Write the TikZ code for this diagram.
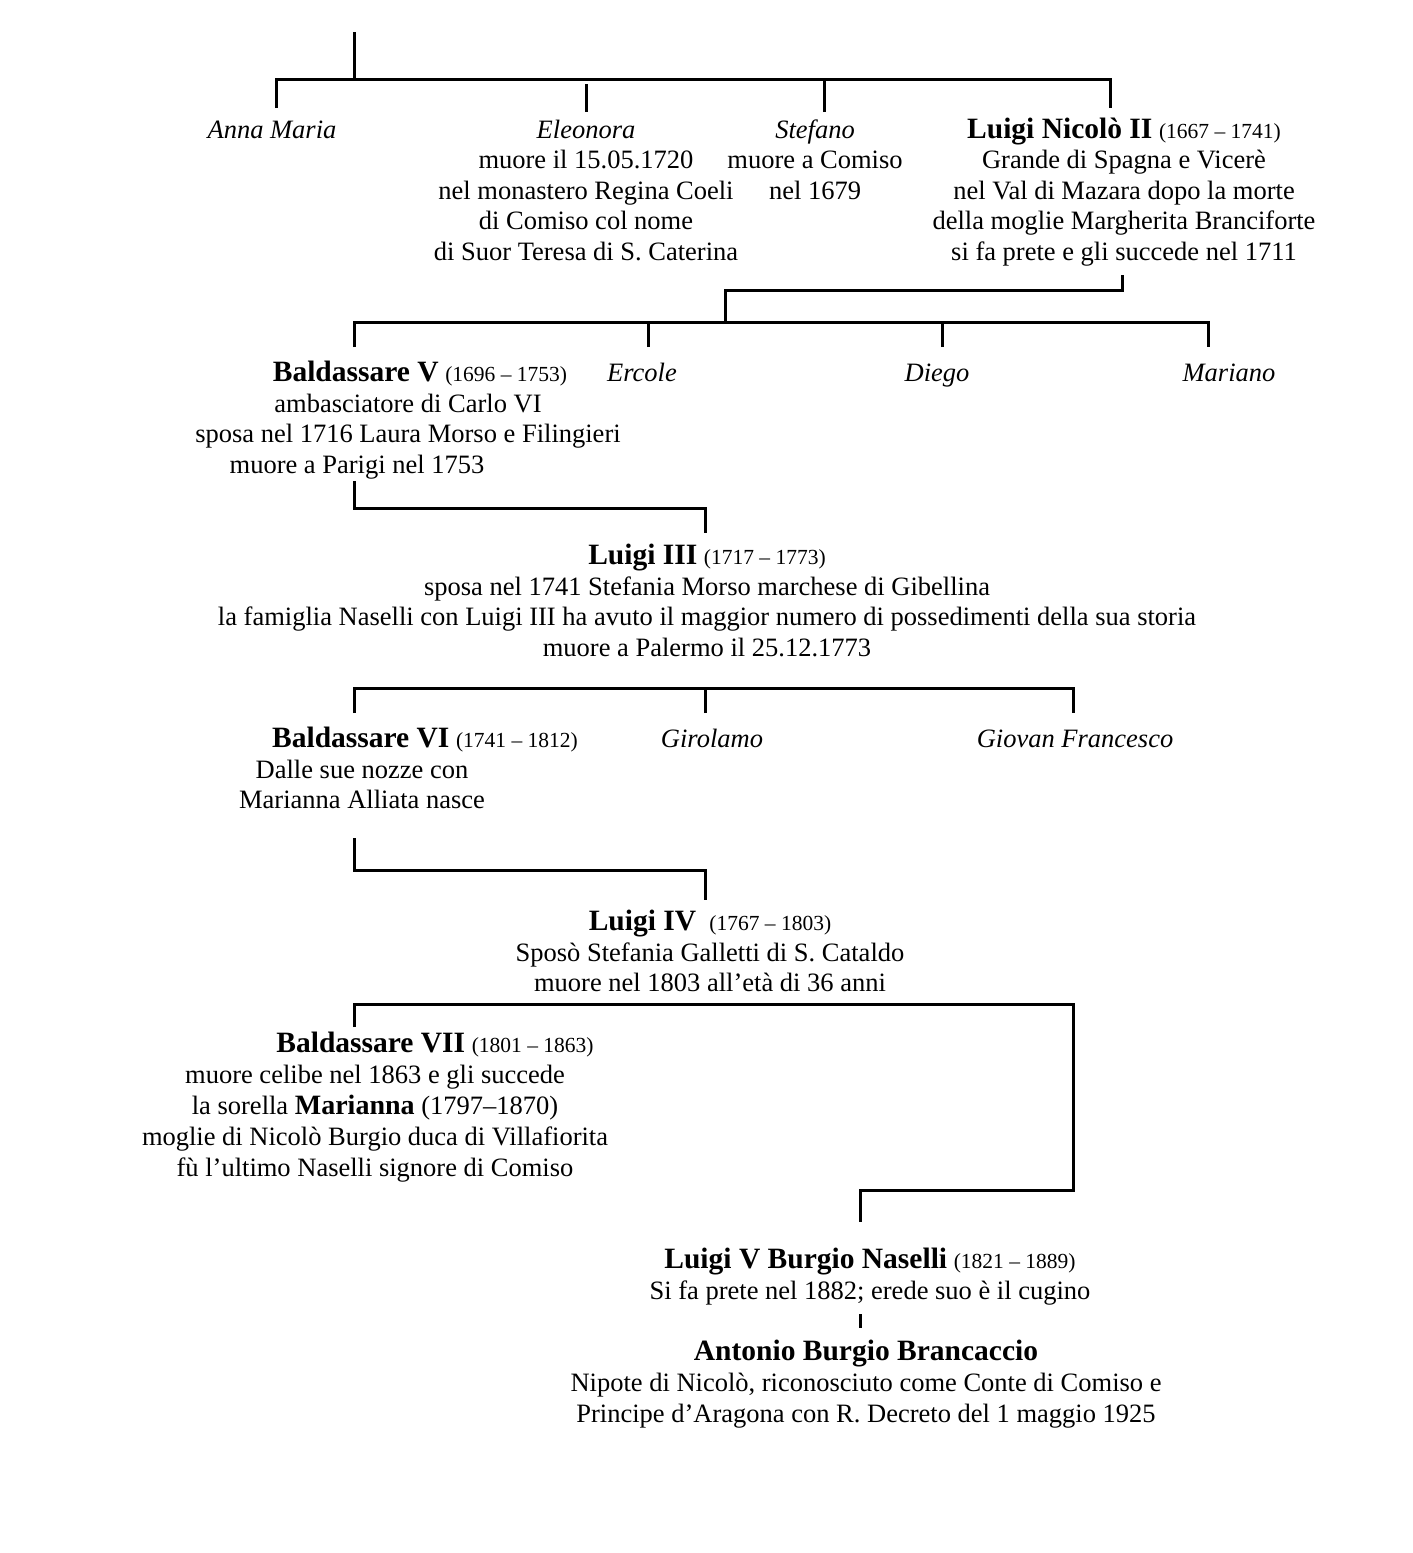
\documentclass[tikz,border=0pt]{standalone}
\usepackage{fontspec}
\setmainfont{Liberation Serif}
\newcommand\pname[1]{{\fontsize{29.5}{30.5}\selectfont\bfseries #1}}
\newcommand\pdates[1]{{\fontsize{21.5}{30.5}\selectfont #1}}
\newcommand\firststrut{\rule{0pt}{22pt}}
\tikzset{
  person/.style={align=center, inner sep=0pt, anchor=north, font=\fontsize{26.5}{30.5}\selectfont},
  personw/.style={person, font=\fontsize{26.5}{31}\selectfont},
  link/.style={line width=3pt, line join=miter},
}
\begin{document}
\begin{tikzpicture}[x=1pt,y=-1pt]
\useasboundingbox (0,0) rectangle (1413,1553);
% ---------- generation 1 ----------
\node[person] (anna) at (272,116) {\firststrut\textit{Anna Maria}};
\node[person] (eleonora) at (586,116) {\firststrut\textit{Eleonora}\\muore il 15.05.1720\\nel monastero Regina Coeli\\di Comiso col nome\\di Suor Teresa di S. Caterina};
\node[person] (stefano) at (815,116) {\firststrut\textit{Stefano}\\muore a Comiso\\nel 1679};
\node[person] (luigi2) at (1124,116) {\firststrut\pname{Luigi Nicolò II} \pdates{(1667 – 1741)}\\Grande di Spagna e Vicerè\\nel Val di Mazara dopo la morte\\della moglie Margherita Branciforte\\si fa prete e gli succede nel 1711};
\coordinate (r1top) at (354,32);
\coordinate (r1L) at (276,79);
\coordinate (r1a) at (276,108);
\coordinate (r1d) at (1110,108);
\coordinate (r1s) at (824,112);
\coordinate (r1e0) at (586,84);
\coordinate (r1e) at (586,112);
\draw[link] (r1a) -- (r1L) -| (r1d);
\draw[link] (r1top) -- (r1top |- r1L);
\draw[link] (r1s) -- (r1s |- r1L);
\draw[link] (r1e0) -- (r1e);
% ---------- generation 2 ----------
\node[person] (bald5) at (408,359.5) {\hspace*{24pt}\firststrut\pname{Baldassare V} \pdates{(1696 – 1753)}\\ambasciatore di Carlo VI\hspace*{96pt}\\sposa nel 1716 Laura Morso e Filingieri\\muore a Parigi nel 1753\hspace*{102pt}};
\node[person] (ercole) at (642,359.5) {\firststrut\textit{Ercole}};
\node[person] (diego) at (937,359.5) {\firststrut\textit{Diego}};
\node[person] (mariano) at (1229,359.5) {\firststrut\textit{Mariano}};
\coordinate (r2top) at (1122,275);
\coordinate (r2j) at (725,322);
\coordinate (r2a) at (354,347);
\coordinate (r2b) at (648,347);
\coordinate (r2c) at (942,347);
\coordinate (r2d) at (1208,347);
\draw[link] (r2top) -- ++(0,15) -| (r2j);
\draw[link] (r2a) -- (r2a |- r2j) -| (r2d);
\draw[link] (r2b) -- (r2b |- r2j);
\draw[link] (r2c) -- (r2c |- r2j);
% ---------- generation 3 ----------
\node[person] (luigi3) at (707,542.5) {\firststrut\pname{Luigi III} \pdates{(1717 – 1773)}\\sposa nel 1741 Stefania Morso marchese di Gibellina\\la famiglia Naselli con Luigi III ha avuto il maggior numero di possedimenti della sua storia\\muore a Palermo il 25.12.1773};
\coordinate (r3top) at (354,481);
\coordinate (r3end) at (705,533);
\draw[link] (r3top) -- ++(0,27) -| (r3end);
% ---------- generation 4 ----------
\node[person] (bald6) at (362,725.5) {\hspace*{126pt}\firststrut\pname{Baldassare VI} \pdates{(1741 – 1812)}\\Dalle sue nozze con\\Marianna Alliata nasce};
\node[person] (girolamo) at (712,725.5) {\firststrut\textit{Girolamo}};
\node[person] (giovan) at (1075,725.5) {\firststrut\textit{Giovan Francesco}};
\coordinate (r4a) at (354,713);
\coordinate (r4bar) at (354,688);
\coordinate (r4b) at (705,713);
\coordinate (r4c) at (1073,713);
\draw[link] (r4a) -- (r4bar) -| (r4c);
\draw[link] (r4b) -- (r4b |- r4bar);
% ---------- generation 5 ----------
\node[person] (luigi4) at (710,908.5) {\firststrut\pname{Luigi IV}\ \ \pdates{(1767 – 1803)}\\Sposò Stefania Galletti di S. Cataldo\\muore nel 1803 all’età di 36 anni};
\coordinate (r5top) at (354,838);
\coordinate (r5end) at (705,900);
\draw[link] (r5top) -- ++(0,32) -| (r5end);
% ---------- generation 6 ----------
\node[personw] (bald7) at (375,1030.5) {\hspace*{120pt}\firststrut\pname{Baldassare VII} \pdates{(1801 – 1863)}\\muore celibe nel 1863 e gli succede\\la sorella {\fontsize{28}{31}\selectfont\bfseries Marianna} (1797–1870)\\moglie di Nicolò Burgio duca di Villafiorita\\fù l’ultimo Naselli signore di Comiso};
\coordinate (r6a) at (354,1027);
\coordinate (r6bar) at (354,1004);
\coordinate (r6b) at (1073,1190);
\coordinate (r6end) at (860,1222);
\draw[link] (r6a) -- (r6bar) -| (r6b) -| (r6end);
% ---------- generation 7 ----------
\node[person] (luigi5) at (870,1246.5) {\firststrut\pname{Luigi V Burgio Naselli} \pdates{(1821 – 1889)}\\Si fa prete nel 1882; erede suo è il cugino};
\node[personw] (antonio) at (866,1338.5) {\firststrut\pname{Antonio Burgio Brancaccio}\\Nipote di Nicolò, riconosciuto come Conte di Comiso e\\Principe d’Aragona con R. Decreto del 1 maggio 1925};
\coordinate (r7a) at (860,1314);
\coordinate (r7b) at (860,1328);
\draw[link] (r7a) -- (r7b);
\end{tikzpicture}
\end{document}
